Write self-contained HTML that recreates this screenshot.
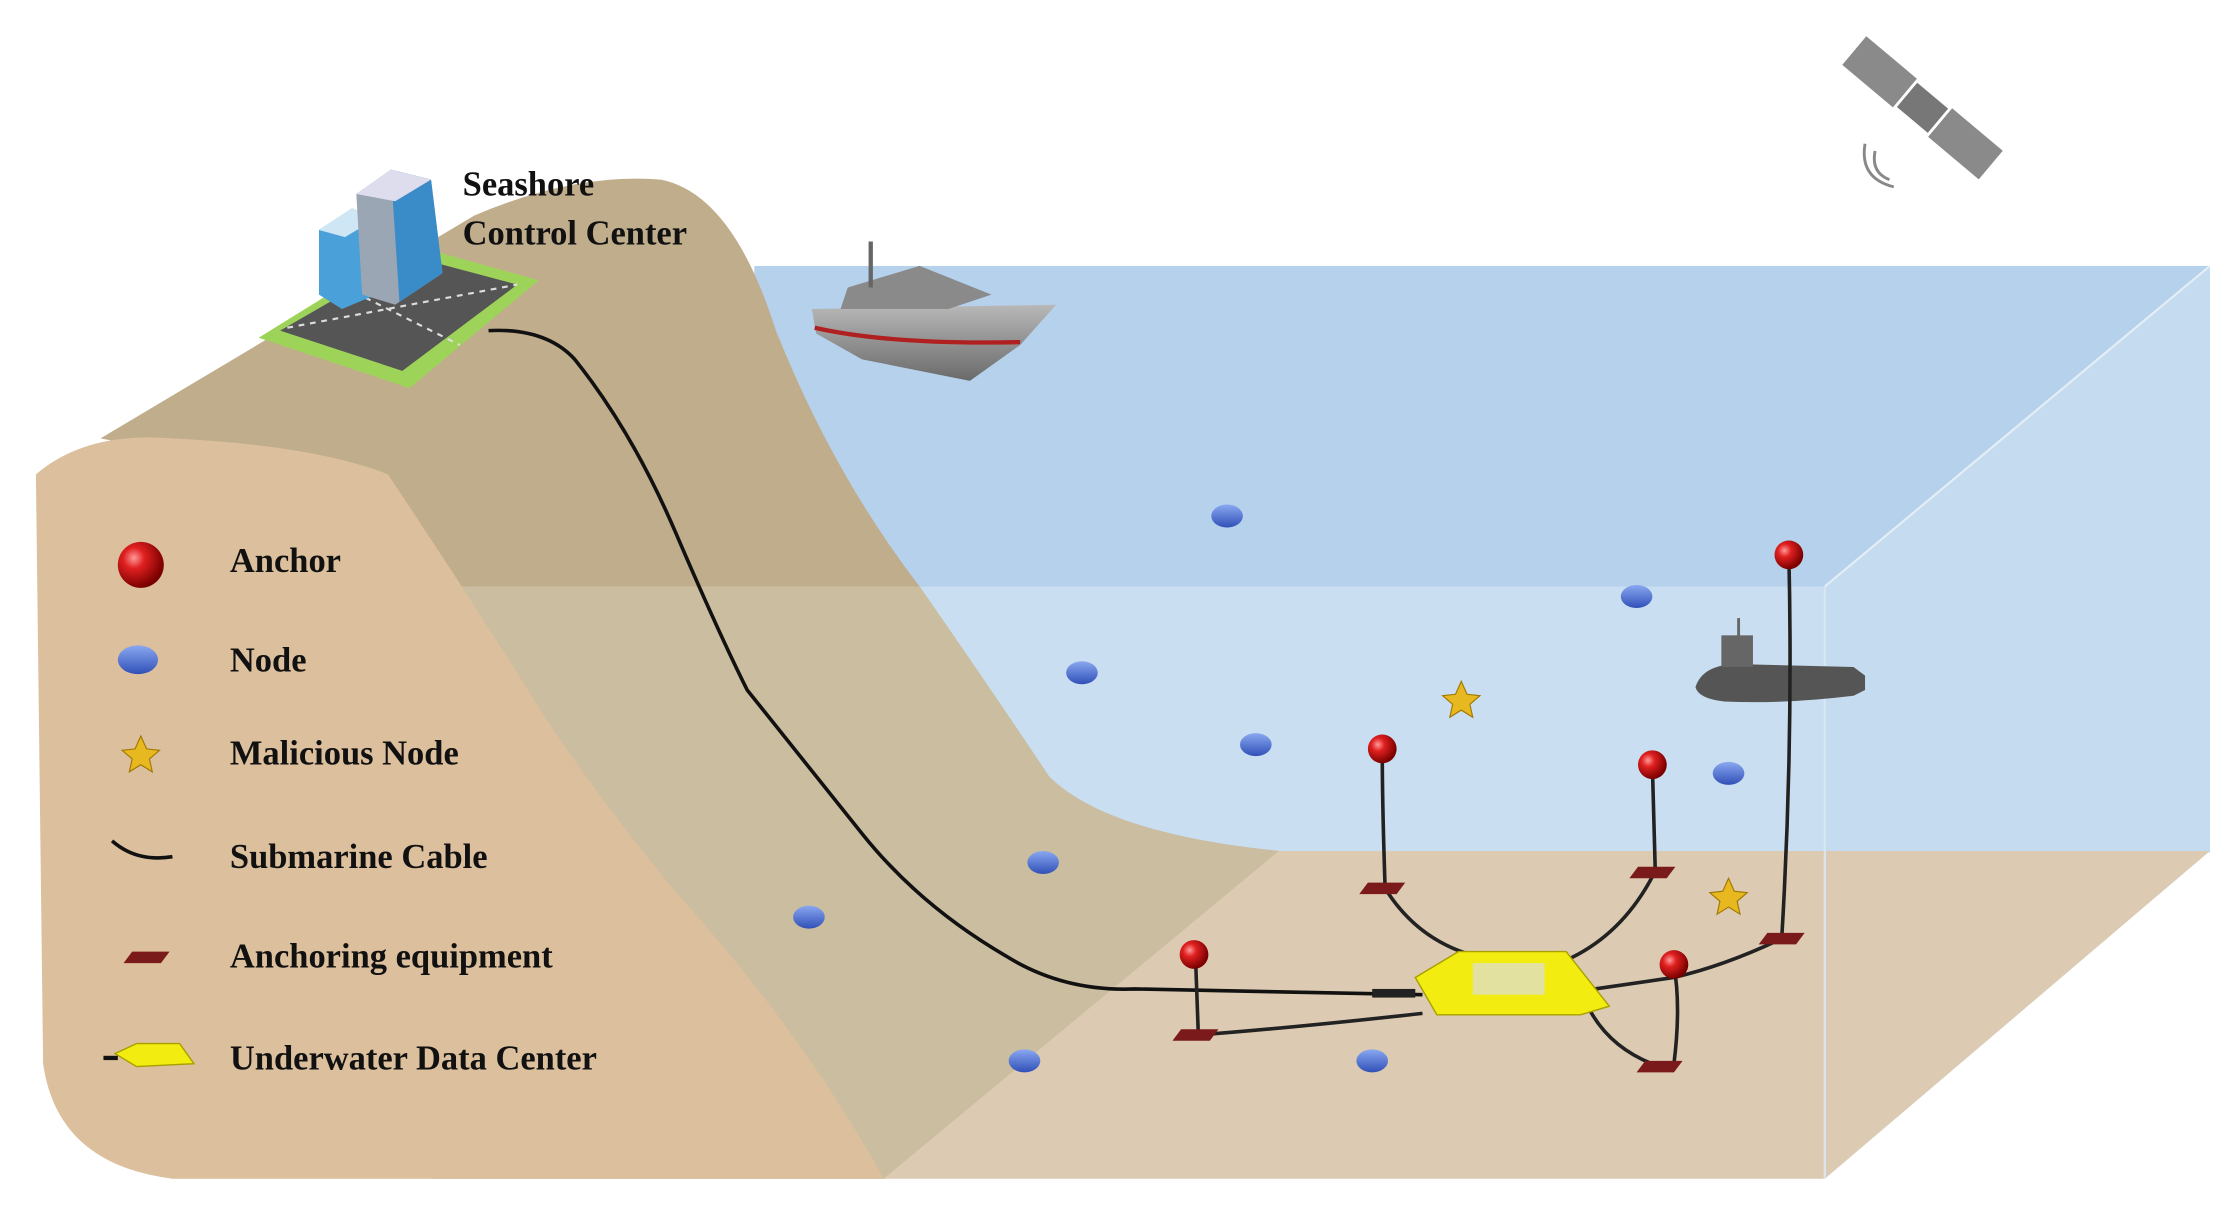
<!DOCTYPE html>
<html><head><meta charset="utf-8">
<style>
html,body{margin:0;padding:0;background:#fff;}
svg{display:block;}
text{font-family:"Liberation Serif",serif;font-weight:bold;fill:#111;}
</style></head>
<body>
<svg width="2230" height="1206" viewBox="0 0 1552 839" preserveAspectRatio="none" xmlns="http://www.w3.org/2000/svg">
<defs>
<radialGradient id="red" cx="35%" cy="35%" r="65%"><stop offset="0" stop-color="#ff9a9a"/><stop offset="0.35" stop-color="#e02020"/><stop offset="1" stop-color="#7a0000"/></radialGradient>
<linearGradient id="blue" x1="0" y1="0" x2="0" y2="1"><stop offset="0" stop-color="#8aa8f0"/><stop offset="1" stop-color="#3050b8"/></linearGradient>
<linearGradient id="ship" x1="0" y1="0" x2="0" y2="1"><stop offset="0" stop-color="#b8b8b8"/><stop offset="1" stop-color="#6a6a6a"/></linearGradient>
<clipPath id="low"><rect x="0" y="408" width="1270" height="420"/></clipPath>
</defs>
<rect x="525" y="185" width="1013" height="408" fill="#b5d1ec"/>
<polygon points="1270,408 1538,185 1538,592 1270,820" fill="#c5dcf0"/>
<rect x="640" y="408" width="630" height="185" fill="#c9def1"/>
<polygon points="890,592 1538,592 1270,820 615,820" fill="#dccbb2"/>
<path d="M70,305 L330,150 Q400,120 460,125 Q510,135 540,230 Q580,330 640,408 Q690,480 730,540 Q770,580 890,592 L615,820 L300,820 L200,330 Z" fill="#c0ad8c"/>
<path d="M70,305 L330,150 Q400,120 460,125 Q510,135 540,230 Q580,330 640,408 Q690,480 730,540 Q770,580 890,592 L615,820 L300,820 L200,330 Z" fill="#cbbd9f" clip-path="url(#low)"/>
<path d="M25,330 Q60,300 120,305 Q220,310 270,330 Q330,420 380,500 Q420,560 470,620 Q560,720 615,820 L120,820 Q40,810 30,740 Z" fill="#dcbf9c"/>
<line x1="1270" y1="408" x2="1270" y2="820" stroke="#d8e6f2" stroke-width="1.5"/>
<line x1="1270" y1="408" x2="1538" y2="185" stroke="#e3eef7" stroke-width="1.5"/>
<polygon points="180,235 285,170 375,195 285,270" fill="#9ed35a"/>
<polygon points="195,230 285,178 360,198 280,258" fill="#555"/>
<path d="M200,228 L360,198 M240,200 L320,240" stroke="#ddd" stroke-width="1.5" stroke-dasharray="4 4"/>
<polygon points="222,160 245,145 262,152 262,205 238,215 222,205" fill="#4aa0d8"/>
<polygon points="222,160 245,145 262,152 240,165" fill="#cfe6f5"/>
<polygon points="248,135 272,118 300,125 308,190 275,212 252,205" fill="#9aa6b4"/>
<polygon points="272,118 300,125 308,190 278,210" fill="#3a8cc8"/>
<polygon points="248,135 272,118 300,125 275,140" fill="#dde"/>
<path d="M340,230 Q380,228 400,250 Q440,300 470,370 Q500,440 520,480 Q560,530 600,580 Q640,630 700,665 Q740,690 790,688 L990,692" fill="none" stroke="#111" stroke-width="2.5"/>
<polygon points="565,215 735,212 710,240 675,265 600,250 568,232" fill="url(#ship)"/>
<path d="M567,228 Q620,240 710,238" stroke="#b02020" stroke-width="3" fill="none"/>
<polygon points="590,200 640,185 690,205 660,215 585,215" fill="#8a8a8a"/>
<line x1="606" y1="168" x2="606" y2="200" stroke="#666" stroke-width="3"/>
<path d="M1180,478 Q1185,462 1210,462 L1290,464 L1298,470 L1298,480 L1290,484 Q1240,490 1200,488 Q1182,486 1180,478 Z" fill="#555"/>
<rect x="1198" y="442" width="22" height="22" fill="#666"/>
<line x1="1210" y1="430" x2="1210" y2="444" stroke="#666" stroke-width="2"/>
<g transform="translate(1338,75) rotate(40)">
<rect x="-62" y="-13" width="46" height="26" fill="#8a8a8a"/>
<rect x="16" y="-13" width="46" height="26" fill="#8a8a8a"/>
<rect x="-14" y="-11" width="28" height="22" fill="#777"/>
</g>
<path d="M1305,105 Q1302,120 1315,125 M1298,100 Q1294,124 1318,130" stroke="#888" stroke-width="2" fill="none"/>
<g stroke="#222" stroke-width="2.5" fill="none">
<path d="M962,522 Q962,560 964,618"/>
<path d="M1150,533 L1152,606"/>
<path d="M1245,387 Q1248,520 1240,653"/>
<path d="M832,665 L834,720"/>
<path d="M1165,672 Q1170,700 1165,740"/>
<path d="M964,618 Q990,660 1040,668"/>
<path d="M1152,606 Q1130,650 1090,668"/>
<path d="M834,720 Q900,715 990,705"/>
<path d="M1110,688 L1165,680 Q1200,672 1240,653"/>
<path d="M1105,700 Q1120,730 1155,742"/>
</g>
<g fill="#7a1a1a">
<polygon points="952,614 978,614 972,622 946,622"/>
<polygon points="1140,603 1166,603 1160,611 1134,611"/>
<polygon points="1230,649 1256,649 1250,657 1224,657"/>
<polygon points="822,716 848,716 842,724 816,724"/>
<polygon points="1145,738 1171,738 1165,746 1139,746"/>
<polygon points="92,662 118,662 112,670 86,670"/>
</g>
<polygon points="985,680 1015,662 1090,662 1120,700 1100,706 1000,706" fill="#f2ec10" stroke="#a8a000"/>
<rect x="1025" y="670" width="50" height="22" fill="#ddd" opacity="0.7"/>
<rect x="955" y="688" width="30" height="6" fill="#222"/>
<polygon points="80,733 95,726 125,726 135,740 95,742" fill="#f2ec10" stroke="#a8a000"/>
<line x1="72" y1="736" x2="82" y2="736" stroke="#111" stroke-width="3"/>
<g fill="url(#red)">
<circle cx="962" cy="521" r="10"/><circle cx="1150" cy="532" r="10"/><circle cx="1245" cy="386" r="10"/>
<circle cx="831" cy="664" r="10"/><circle cx="1165" cy="671" r="10"/><circle cx="98" cy="393" r="16"/>
</g>
<g fill="url(#blue)">
<ellipse cx="854" cy="359" rx="11" ry="8"/><ellipse cx="1139" cy="415" rx="11" ry="8"/><ellipse cx="753" cy="468" rx="11" ry="8"/>
<ellipse cx="874" cy="518" rx="11" ry="8"/><ellipse cx="1203" cy="538" rx="11" ry="8"/><ellipse cx="726" cy="600" rx="11" ry="8"/>
<ellipse cx="563" cy="638" rx="11" ry="8"/><ellipse cx="713" cy="738" rx="11" ry="8"/><ellipse cx="955" cy="738" rx="11" ry="8"/>
<ellipse cx="96" cy="459" rx="14" ry="10"/>
</g>
<g fill="#e8b820" stroke="#a07800" stroke-width="0.8">
<polygon points="1017,474 1021,483 1030,484 1023,490 1025,499 1017,494 1009,499 1011,490 1004,484 1013,483"/>
<polygon points="1203,611 1207,620 1216,621 1209,627 1211,636 1203,631 1195,636 1197,627 1190,621 1199,620"/>
<polygon points="98,512 102,521 111,522 104,528 106,537 98,532 90,537 92,528 85,522 94,521"/>
</g>
<path d="M78,585 Q95,600 120,596" stroke="#111" stroke-width="2.5" fill="none"/>
<g font-size="24">
<text x="322" y="136">Seashore</text>
<text x="322" y="170">Control Center</text>
<text x="160" y="398">Anchor</text>
<text x="160" y="467">Node</text>
<text x="160" y="532">Malicious Node</text>
<text x="160" y="604">Submarine Cable</text>
<text x="160" y="673">Anchoring equipment</text>
<text x="160" y="744">Underwater Data Center</text>
</g>
</svg>
</body></html>
